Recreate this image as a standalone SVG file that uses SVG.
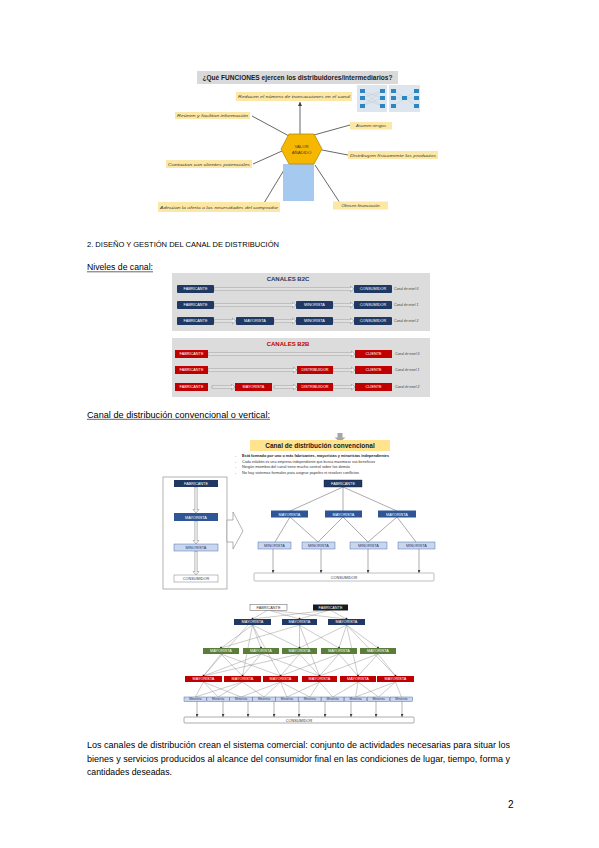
<svg xmlns="http://www.w3.org/2000/svg" width="599" height="848" viewBox="0 0 599 848">
<defs>
<style>
text{font-family:"Liberation Sans",Arial,sans-serif}
.bx{font-size:3.8px;fill:#fff;text-anchor:middle}
.bxd{font-size:3.8px;fill:#1f3864;text-anchor:middle}
.lab{font-size:4.2px;font-style:italic;fill:#3a3a3a;text-anchor:middle}
.yl{fill:#fde7a5}
.ln{stroke:#595959;stroke-width:0.5;fill:none}
.hl{stroke:#404040;stroke-width:0.8;fill:none}
.ha{fill:#f2f2f2;stroke:#7f7f7f;stroke-width:0.5}
.nv{fill:#1f3864}
.bl{fill:#2f5597}
.lb{fill:#c9d6ee;stroke:#2f5597;stroke-width:0.4}
.wh{fill:#fff;stroke:#7f7f7f;stroke-width:0.5}
.rd{fill:#c00000}
.gr{fill:#5a7d3a}
.dot{fill:#262626}
.niv{font-size:3.4px;font-style:italic;fill:#404040}
.sq{fill:#2e86c1}
</style>
<marker id="ah" markerWidth="4" markerHeight="4" refX="4" refY="2" orient="auto" markerUnits="userSpaceOnUse"><path d="M0,0 L4,2 L0,4 Z" fill="#404040"/></marker>
<marker id="as" markerWidth="3" markerHeight="3" refX="3" refY="1.5" orient="auto" markerUnits="userSpaceOnUse"><path d="M0,0 L3,1.5 L0,3 Z" fill="#404040"/></marker>
</defs>
<rect width="599" height="848" fill="#fff"/>

<!-- ===== Top figure ===== -->
<g id="funciones-title">
<rect x="197" y="71" width="201" height="13" fill="#d9d9d9"/>
<text x="297.5" y="80" font-size="6.5" font-weight="bold" fill="#1a1a1a" text-anchor="middle" textLength="190" lengthAdjust="spacingAndGlyphs">¿Qué FUNCIONES ejercen los distribuidores/intermediarios?</text>
</g>
<g id="funciones-lines">
<line class="hl" x1="300" y1="134" x2="300" y2="102" marker-end="url(#ah)"/>
<line class="hl" x1="289" y1="136" x2="252" y2="116"/>
<line class="hl" x1="314" y1="135" x2="350" y2="125"/>
<line class="hl" x1="322" y1="150" x2="348" y2="155"/>
<line class="hl" x1="282" y1="151" x2="253" y2="164"/>
<line class="hl" x1="287" y1="165" x2="264" y2="203"/>
<line class="hl" x1="315" y1="165" x2="340" y2="203"/>
</g>
<g id="blue-rect"><rect x="283" y="164" width="31" height="37" fill="#a6c9ef"/></g>
<g id="valor">
<polygon points="281,149 289,134 314,134 322,149 314,164 289,164" fill="#f5b700" stroke="#b88a00" stroke-width="0.8"/>
<text x="301.5" y="148" font-size="4.3" fill="#3a3a3a" text-anchor="middle">VALOR</text>
<text x="301.5" y="153.5" font-size="4.3" fill="#3a3a3a" text-anchor="middle">AÑADIDO</text>
</g>
<g id="f-reducen"><rect class="yl" x="236" y="92" width="116" height="9"/><text class="lab" x="294" y="98" textLength="112" lengthAdjust="spacingAndGlyphs">Reducen el número de transacciones en el canal</text></g>
<g id="f-reunen"><rect class="yl" x="175" y="112" width="75" height="7"/><text class="lab" x="212.5" y="117" textLength="71" lengthAdjust="spacingAndGlyphs">Reúnen y facilitan información</text></g>
<g id="f-asumen"><rect class="yl" x="350" y="122" width="42" height="7.5"/><text class="lab" x="371" y="127.2">Asumen riesgos</text></g>
<g id="f-distribuyen"><rect class="yl" x="348" y="151" width="90" height="8"/><text class="lab" x="393" y="156.5" textLength="86" lengthAdjust="spacingAndGlyphs">Distribuyen físicamente los productos</text></g>
<g id="f-contactan"><rect class="yl" x="166" y="160" width="86" height="8"/><text class="lab" x="209" y="165.5" textLength="82" lengthAdjust="spacingAndGlyphs">Contactan con clientes potenciales</text></g>
<g id="f-adecuan"><rect class="yl" x="158" y="202" width="122" height="10"/><text class="lab" x="219" y="208.5" textLength="118" lengthAdjust="spacingAndGlyphs">Adecúan la oferta a las necesidades del comprador</text></g>
<g id="f-ofrecen"><rect class="yl" x="333" y="201.5" width="55" height="8"/><text class="lab" x="360.5" y="207">Ofrecen financiación</text></g>
<g id="transacciones-img">
<rect x="357" y="85" width="30" height="27" fill="#dde6ee"/>
<rect x="389" y="85" width="31" height="27" fill="#dde6ee"/>
<g stroke="#b8c2cc" stroke-width="0.4">
<line x1="362" y1="91" x2="382" y2="98"/><line x1="362" y1="91" x2="382" y2="106"/><line x1="362" y1="98" x2="382" y2="91"/><line x1="362" y1="98" x2="382" y2="106"/><line x1="362" y1="106" x2="382" y2="91"/><line x1="362" y1="106" x2="382" y2="98"/>
<line x1="394" y1="91" x2="405" y2="98"/><line x1="394" y1="98" x2="405" y2="98"/><line x1="394" y1="106" x2="405" y2="98"/><line x1="405" y1="98" x2="416" y2="91"/><line x1="405" y1="98" x2="416" y2="98"/><line x1="405" y1="98" x2="416" y2="106"/>
</g>
<rect class="sq" x="360" y="89" width="5" height="4"/><rect class="sq" x="360" y="96" width="5" height="4"/><rect class="sq" x="360" y="104" width="5" height="4"/>
<rect class="sq" x="380" y="89" width="5" height="4"/><rect class="sq" x="380" y="96" width="5" height="4"/><rect class="sq" x="380" y="104" width="5" height="4"/>
<rect class="sq" x="391" y="89" width="5" height="4"/><rect class="sq" x="391" y="96" width="5" height="4"/><rect class="sq" x="391" y="104" width="5" height="4"/>
<rect class="sq" x="402" y="96" width="5" height="4"/>
<rect class="sq" x="414" y="89" width="5" height="4"/><rect class="sq" x="414" y="96" width="5" height="4"/><rect class="sq" x="414" y="104" width="5" height="4"/>
</g>

<!-- ===== Headings ===== -->
<g id="heading">
<text x="87" y="246.5" font-size="8" fill="#000" textLength="192" lengthAdjust="spacingAndGlyphs">2. DISEÑO Y GESTIÓN DEL CANAL DE DISTRIBUCIÓN</text>
</g>
<g id="niveles-title">
<text x="87" y="270" font-size="8.5" fill="#000" textLength="66" lengthAdjust="spacingAndGlyphs">Niveles de canal:</text>
<line x1="87" y1="271.8" x2="153" y2="271.8" stroke="#000" stroke-width="0.6"/>
</g>

<!-- ===== B2C ===== -->
<g id="b2c-panel">
<rect x="172" y="273" width="258" height="58" fill="#dcdcdc"/>
<text x="288" y="281" font-size="6" font-weight="bold" fill="#1f3864" text-anchor="middle">CANALES B2C</text>
</g>
<g id="b2c-connectors">
<path class="ha" d="M214 287.8 H350.5 V286.2 L354 289 L350.5 291.8 V290.2 H214 Z"/>
<path class="ha" d="M214 303.8 H292.5 V302.2 L296 305 L292.5 307.8 V306.2 H214 Z"/>
<path class="ha" d="M333 303.8 H350.5 V302.2 L354 305 L350.5 307.8 V306.2 H333 Z"/>
<path class="ha" d="M214 319.8 H232.5 V318.2 L236 321 L232.5 323.8 V322.2 H214 Z"/>
<path class="ha" d="M274 319.8 H292.5 V318.2 L296 321 L292.5 323.8 V322.2 H274 Z"/>
<path class="ha" d="M333 319.8 H350.5 V318.2 L354 321 L350.5 323.8 V322.2 H333 Z"/>
</g>
<g id="b2c-r0">
<rect class="nv" x="177" y="285" width="37" height="8" rx="1"/><text class="bx" x="195.5" y="290.3">FABRICANTE</text>
<rect class="nv" x="354" y="285" width="38" height="8" rx="1"/><text class="bx" x="373" y="290.3">CONSUMIDOR</text>
<text class="niv" x="394" y="290.3">Canal de nivel 0</text>
</g>
<g id="b2c-r1">
<rect class="nv" x="177" y="301" width="37" height="8" rx="1"/><text class="bx" x="195.5" y="306.3">FABRICANTE</text>
<rect class="nv" x="296" y="301" width="37" height="8" rx="1"/><text class="bx" x="314.5" y="306.3">MINORISTA</text>
<rect class="nv" x="354" y="301" width="38" height="8" rx="1"/><text class="bx" x="373" y="306.3">CONSUMIDOR</text>
<text class="niv" x="394" y="306.3">Canal de nivel 1</text>
</g>
<g id="b2c-r2">
<rect class="nv" x="177" y="317" width="37" height="8" rx="1"/><text class="bx" x="195.5" y="322.3">FABRICANTE</text>
<rect class="nv" x="236" y="317" width="38" height="8" rx="1"/><text class="bx" x="255" y="322.3">MAYORISTA</text>
<rect class="nv" x="296" y="317" width="37" height="8" rx="1"/><text class="bx" x="314.5" y="322.3">MINORISTA</text>
<rect class="nv" x="354" y="317" width="38" height="8" rx="1"/><text class="bx" x="373" y="322.3">CONSUMIDOR</text>
<text class="niv" x="394" y="322.3">Canal de nivel 2</text>
</g>

<!-- ===== B2B ===== -->
<g id="b2b-panel">
<rect x="172" y="338" width="258" height="59" fill="#dcdcdc"/>
<text x="288" y="346" font-size="6" font-weight="bold" fill="#c00000" text-anchor="middle">CANALES B2B</text>
</g>
<g id="b2b-connectors">
<path class="ha" d="M208 352.8 H351.5 V351.2 L355 354 L351.5 356.8 V355.2 H208 Z"/>
<path class="ha" d="M208 368.8 H293.5 V367.2 L297 370 L293.5 372.8 V371.2 H208 Z"/>
<path class="ha" d="M333 368.8 H351.5 V367.2 L355 370 L351.5 372.8 V371.2 H333 Z"/>
<path class="ha" d="M212 385.8 H231.5 V384.2 L235 387 L231.5 389.8 V388.2 H212 Z"/>
<path class="ha" d="M274 385.8 H293.5 V384.2 L297 387 L293.5 389.8 V388.2 H274 Z"/>
<path class="ha" d="M333 385.8 H351.5 V384.2 L355 387 L351.5 389.8 V388.2 H333 Z"/>
</g>
<g id="b2b-r0">
<rect class="rd" x="175" y="350" width="33" height="8"/><text class="bx" x="191.5" y="355.3">FABRICANTE</text>
<rect class="rd" x="355" y="350" width="37" height="8"/><text class="bx" x="373.5" y="355.3">CLIENTE</text>
<text class="niv" x="395" y="355.3">Canal de nivel 0</text>
</g>
<g id="b2b-r1">
<rect class="rd" x="175" y="366" width="33" height="8"/><text class="bx" x="191.5" y="371.3">FABRICANTE</text>
<rect class="rd" x="297" y="366" width="36" height="8"/><text class="bx" x="315" y="371.3">DISTRIBUIDOR</text>
<rect class="rd" x="355" y="366" width="37" height="8"/><text class="bx" x="373.5" y="371.3">CLIENTE</text>
<text class="niv" x="395" y="371.3">Canal de nivel 1</text>
</g>
<g id="b2b-r2">
<rect class="rd" x="175" y="383" width="33" height="8"/><text class="bx" x="191.5" y="388.3">FABRICANTE</text>
<rect class="rd" x="235" y="383" width="37" height="8"/><text class="bx" x="253.5" y="388.3">MAYORISTA</text>
<rect class="rd" x="297" y="383" width="36" height="8"/><text class="bx" x="315" y="388.3">DISTRIBUIDOR</text>
<rect class="rd" x="355" y="383" width="37" height="8"/><text class="bx" x="373.5" y="388.3">CLIENTE</text>
<text class="niv" x="395" y="388.3">Canal de nivel 2</text>
</g>

<!-- ===== Convencional ===== -->
<g id="conv-title">
<text x="87" y="417.5" font-size="8.5" fill="#000" textLength="183" lengthAdjust="spacingAndGlyphs">Canal de distribución convencional o vertical:</text>
<line x1="87" y1="419.3" x2="270" y2="419.3" stroke="#000" stroke-width="0.6"/>
</g>
<g id="conv-left">
<rect x="163" y="477" width="64" height="112" fill="#fff" stroke="#808080" stroke-width="0.6"/>
<path class="ha" d="M194.8 487 V509.5 H193 L196 513 L199 509.5 H197.2 V487 Z"/>
<path class="ha" d="M194.8 521 V540.5 H193 L196 544 L199 540.5 H197.2 V521 Z"/>
<path class="ha" d="M194.8 551 V571.5 H193 L196 575 L199 571.5 H197.2 V551 Z"/>
<rect class="nv" x="174" y="480" width="44" height="7"/><text class="bx" x="196" y="485">FABRICANTE</text>
<rect class="bl" x="174" y="513" width="44" height="8"/><text class="bx" x="196" y="518.5">MAYORISTA</text>
<rect class="lb" x="174" y="544" width="44" height="7"/><text class="bxd" x="196" y="549">MINORISTA</text>
<rect class="wh" x="174" y="575" width="44" height="7"/><text class="bxd" x="196" y="580" fill="#333">CONSUMIDOR</text>
</g>
<g id="conv-bigarrow">
<path d="M227 520 H233 V512 L243 531 L233 549 V542 H227 Z" fill="#fff" stroke="#7f7f7f" stroke-width="0.6"/>
</g>
<g id="conv-header">
<path d="M337.5 433 H342.5 V437.5 H345.5 L340 442 L334.5 437.5 H337.5 Z" fill="#a6a6a6"/>
<rect x="250" y="440" width="140" height="11" fill="#ffe38f"/>
<text x="320" y="448" font-size="6.5" font-weight="bold" fill="#1a1a1a" text-anchor="middle">Canal de distribución convencional</text>
<g font-size="3.6" fill="#333">
<text x="235" y="457">-</text><text x="242" y="457" font-weight="bold" fill="#1a1a1a" textLength="147" lengthAdjust="spacingAndGlyphs">Está formado por uno o más fabricantes, mayoristas y minoristas independientes</text>
<text x="235" y="462.5">-</text><text x="242" y="462.5" textLength="133" lengthAdjust="spacingAndGlyphs">Cada eslabón es una empresa independiente que busca maximizar sus beneficios</text>
<text x="235" y="468">-</text><text x="242" y="468" textLength="108" lengthAdjust="spacingAndGlyphs">Ningún miembro del canal tiene mucho control sobre los demás</text>
<text x="235" y="473.5">-</text><text x="242" y="473.5" textLength="117" lengthAdjust="spacingAndGlyphs">No hay sistemas formales para asignar papeles ni resolver conflictos</text>
</g>
</g>
<g id="conv-connectors">
<line class="ln" x1="343" y1="487" x2="290" y2="511"/>
<line class="ln" x1="343" y1="487" x2="343" y2="511"/>
<line class="ln" x1="343" y1="487" x2="397" y2="511"/>
<line class="ln" x1="290" y1="517" x2="275" y2="542"/>
<line class="ln" x1="290" y1="517" x2="318" y2="542"/>
<line class="ln" x1="343" y1="517" x2="318" y2="542"/>
<line class="ln" x1="343" y1="517" x2="368" y2="542"/>
<line class="ln" x1="397" y1="517" x2="368" y2="542"/>
<line class="ln" x1="397" y1="517" x2="416" y2="542"/>
<line class="ln" x1="273" y1="549" x2="273" y2="573" marker-end="url(#as)"/>
<line class="ln" x1="321" y1="549" x2="321" y2="573" marker-end="url(#as)"/>
<line class="ln" x1="368" y1="549" x2="368" y2="573" marker-end="url(#as)"/>
<line class="ln" x1="419" y1="549" x2="419" y2="573" marker-end="url(#as)"/>
</g>
<g id="conv-fab"><rect class="nv" x="324" y="480" width="38" height="7" stroke="#0d1b33" stroke-width="0.4"/><text class="bx" x="343" y="485">FABRICANTE</text></g>
<g id="conv-may1"><rect class="bl" x="271" y="510.5" width="37" height="7"/><text class="bx" x="289.5" y="515.5">MAYORISTA</text></g>
<g id="conv-may2"><rect class="bl" x="325" y="510.5" width="37" height="7"/><text class="bx" x="343.5" y="515.5">MAYORISTA</text></g>
<g id="conv-may3"><rect class="bl" x="378" y="510.5" width="38" height="7"/><text class="bx" x="397" y="515.5">MAYORISTA</text></g>
<g id="conv-min1"><rect class="lb" x="258" y="542" width="33" height="7"/><text class="bxd" x="274.5" y="547">MINORISTA</text></g>
<g id="conv-min2"><rect class="lb" x="302" y="542" width="33" height="7"/><text class="bxd" x="318.5" y="547">MINORISTA</text></g>
<g id="conv-min3"><rect class="lb" x="350" y="542" width="37" height="7"/><text class="bxd" x="368.5" y="547">MINORISTA</text></g>
<g id="conv-min4"><rect class="lb" x="398" y="542" width="37" height="7"/><text class="bxd" x="416.5" y="547">MINORISTA</text></g>
<g id="conv-cons"><rect class="wh" x="254" y="573" width="180" height="8" rx="1"/><text class="bxd" x="344" y="578.5" fill="#333">CONSUMIDOR</text></g>

<!-- ===== Network ===== -->
<g id="net-connectors" stroke="#8c8c8c" stroke-width="0.45" fill="none">
<line x1="268" y1="610" x2="252.5" y2="619"/><line x1="268" y1="610" x2="299.5" y2="619"/><line x1="268" y1="610" x2="346.5" y2="619"/>
<line x1="330" y1="610" x2="252.5" y2="619"/><line x1="330" y1="610" x2="299.5" y2="619"/><line x1="330" y1="610" x2="346.5" y2="619"/>
<line x1="252.5" y1="625" x2="221" y2="648"/><line x1="252.5" y1="625" x2="261" y2="648"/><line x1="252.5" y1="625" x2="299.5" y2="648"/><line x1="252.5" y1="625" x2="242.5" y2="676"/><line x1="252.5" y1="625" x2="280.5" y2="676"/><line x1="248" y1="625" x2="203.5" y2="676"/>
<line x1="299.5" y1="625" x2="221" y2="648"/><line x1="299.5" y1="625" x2="299.5" y2="648"/><line x1="299.5" y1="625" x2="339" y2="648"/><line x1="299.5" y1="625" x2="319.5" y2="676"/>
<line x1="346.5" y1="625" x2="299.5" y2="648"/><line x1="346.5" y1="625" x2="339" y2="648"/><line x1="346.5" y1="625" x2="378" y2="648"/><line x1="346.5" y1="625" x2="358" y2="676"/><line x1="346.5" y1="625" x2="395.5" y2="676"/>
<line x1="221" y1="654" x2="203.5" y2="676"/><line x1="221" y1="654" x2="242.5" y2="676"/><line x1="221" y1="654" x2="280.5" y2="676"/>
<line x1="261" y1="654" x2="203.5" y2="676"/><line x1="261" y1="654" x2="242.5" y2="676"/><line x1="261" y1="654" x2="319.5" y2="676"/>
<line x1="299.5" y1="654" x2="203.5" y2="676"/><line x1="299.5" y1="654" x2="280.5" y2="676"/><line x1="299.5" y1="654" x2="319.5" y2="676"/>
<line x1="339" y1="654" x2="280.5" y2="676"/><line x1="339" y1="654" x2="319.5" y2="676"/><line x1="339" y1="654" x2="358" y2="676"/>
<line x1="378" y1="654" x2="319.5" y2="676"/><line x1="378" y1="654" x2="358" y2="676"/><line x1="378" y1="654" x2="395.5" y2="676"/>
<line x1="203.5" y1="682" x2="195.3" y2="697"/><line x1="203.5" y1="682" x2="218.2" y2="697"/><line x1="203.5" y1="682" x2="241.1" y2="697"/>
<line x1="242.5" y1="682" x2="195.3" y2="697"/><line x1="242.5" y1="682" x2="218.2" y2="697"/><line x1="242.5" y1="682" x2="264" y2="697"/>
<line x1="280.5" y1="682" x2="241.1" y2="697"/><line x1="280.5" y1="682" x2="264" y2="697"/><line x1="280.5" y1="682" x2="286.9" y2="697"/><line x1="280.5" y1="682" x2="309.8" y2="697"/>
<line x1="319.5" y1="682" x2="286.9" y2="697"/><line x1="319.5" y1="682" x2="309.8" y2="697"/><line x1="319.5" y1="682" x2="332.7" y2="697"/>
<line x1="358" y1="682" x2="332.7" y2="697"/><line x1="358" y1="682" x2="355.6" y2="697"/><line x1="358" y1="682" x2="378.5" y2="697"/>
<line x1="395.5" y1="682" x2="355.6" y2="697"/><line x1="395.5" y1="682" x2="378.5" y2="697"/><line x1="395.5" y1="682" x2="401.4" y2="697"/>
</g>
<g id="net-arrows" stroke="#595959" stroke-width="0.45">
<line x1="197" y1="701" x2="197" y2="717" marker-end="url(#as)"/><line x1="223" y1="701" x2="223" y2="717" marker-end="url(#as)"/><line x1="248" y1="701" x2="248" y2="717" marker-end="url(#as)"/>
<line x1="274" y1="701" x2="274" y2="717" marker-end="url(#as)"/><line x1="299" y1="701" x2="299" y2="717" marker-end="url(#as)"/><line x1="325" y1="701" x2="325" y2="717" marker-end="url(#as)"/>
<line x1="351" y1="701" x2="351" y2="717" marker-end="url(#as)"/><line x1="376" y1="701" x2="376" y2="717" marker-end="url(#as)"/><line x1="402" y1="701" x2="402" y2="717" marker-end="url(#as)"/>
</g>
<g id="net-fab1"><rect x="250" y="604.5" width="37" height="6" fill="#fff" stroke="#595959" stroke-width="0.5"/><text x="268.5" y="609" font-size="3.8" fill="#333" text-anchor="middle">FABRICANTE</text></g>
<g id="net-fab2"><rect x="313" y="604.5" width="35" height="6" fill="#1a1a1a"/><text class="bx" x="330.5" y="609">FABRICANTE</text></g>
<g id="net-n1"><rect class="nv" x="234" y="619" width="37" height="6"/><text class="bx" x="252.5" y="623.4">MAYORISTA</text></g>
<g id="net-n2"><rect class="nv" x="282" y="619" width="35" height="6"/><text class="bx" x="299.5" y="623.4">MAYORISTA</text></g>
<g id="net-n3"><rect class="nv" x="328" y="619" width="37" height="6"/><text class="bx" x="346.5" y="623.4">MAYORISTA</text></g>
<g id="net-g1"><rect class="gr" x="203" y="648" width="36" height="6"/><text class="bx" x="221" y="652.4">MAYORISTA</text></g>
<g id="net-g2"><rect class="gr" x="243" y="648" width="36" height="6"/><text class="bx" x="261" y="652.4">MAYORISTA</text></g>
<g id="net-g3"><rect class="gr" x="282" y="648" width="35" height="6"/><text class="bx" x="299.5" y="652.4">MAYORISTA</text></g>
<g id="net-g4"><rect class="gr" x="321" y="648" width="36" height="6"/><text class="bx" x="339" y="652.4">MAYORISTA</text></g>
<g id="net-g5"><rect class="gr" x="360" y="648" width="36" height="6"/><text class="bx" x="378" y="652.4">MAYORISTA</text></g>
<g id="net-r1"><rect class="rd" x="185" y="676" width="37" height="6"/><text class="bx" x="203.5" y="680.4">MAYORISTA</text></g>
<g id="net-r2"><rect class="rd" x="224" y="676" width="37" height="6"/><text class="bx" x="242.5" y="680.4">MAYORISTA</text></g>
<g id="net-r3"><rect class="rd" x="263" y="676" width="35" height="6"/><text class="bx" x="280.5" y="680.4">MAYORISTA</text></g>
<g id="net-r4"><rect class="rd" x="302" y="676" width="35" height="6"/><text class="bx" x="319.5" y="680.4">MAYORISTA</text></g>
<g id="net-r5"><rect class="rd" x="340" y="676" width="36" height="6"/><text class="bx" x="358" y="680.4">MAYORISTA</text></g>
<g id="net-r6"><rect class="rd" x="377" y="676" width="37" height="6"/><text class="bx" x="395.5" y="680.4">MAYORISTA</text></g>
<g id="net-minoristas" font-size="3" fill="#1f3864" text-anchor="middle">
<rect class="lb" x="184" y="697" width="22.5" height="4.5"/><text x="195.3" y="700.3">Minorista</text>
<rect class="lb" x="206.9" y="697" width="22.5" height="4.5"/><text x="218.2" y="700.3">Minorista</text>
<rect class="lb" x="229.8" y="697" width="22.5" height="4.5"/><text x="241.1" y="700.3">Minorista</text>
<rect class="lb" x="252.7" y="697" width="22.5" height="4.5"/><text x="264" y="700.3">Minorista</text>
<rect class="lb" x="275.6" y="697" width="22.5" height="4.5"/><text x="286.9" y="700.3">Minorista</text>
<rect class="lb" x="298.5" y="697" width="22.5" height="4.5"/><text x="309.8" y="700.3">Minorista</text>
<rect class="lb" x="321.4" y="697" width="22.5" height="4.5"/><text x="332.7" y="700.3">Minorista</text>
<rect class="lb" x="344.3" y="697" width="22.5" height="4.5"/><text x="355.6" y="700.3">Minorista</text>
<rect class="lb" x="367.2" y="697" width="22.5" height="4.5"/><text x="378.5" y="700.3">Minorista</text>
<rect class="lb" x="390.1" y="697" width="22.5" height="4.5"/><text x="401.4" y="700.3">Minorista</text>
</g>
<g id="net-dots">
<rect class="dot" x="251.7" y="617.8" width="1.6" height="1.2"/><rect class="dot" x="298.7" y="617.8" width="1.6" height="1.2"/><rect class="dot" x="345.7" y="617.8" width="1.6" height="1.2"/>
<rect class="dot" x="220.2" y="646.8" width="1.6" height="1.2"/><rect class="dot" x="260.2" y="646.8" width="1.6" height="1.2"/><rect class="dot" x="298.7" y="646.8" width="1.6" height="1.2"/><rect class="dot" x="338.2" y="646.8" width="1.6" height="1.2"/><rect class="dot" x="377.2" y="646.8" width="1.6" height="1.2"/>
<rect class="dot" x="202.7" y="674.8" width="1.6" height="1.2"/><rect class="dot" x="241.7" y="674.8" width="1.6" height="1.2"/><rect class="dot" x="279.7" y="674.8" width="1.6" height="1.2"/><rect class="dot" x="318.7" y="674.8" width="1.6" height="1.2"/><rect class="dot" x="357.2" y="674.8" width="1.6" height="1.2"/><rect class="dot" x="394.7" y="674.8" width="1.6" height="1.2"/>
</g>
<g id="net-cons"><rect x="184" y="717" width="230" height="6" fill="#fff" stroke="#595959" stroke-width="0.5" rx="1"/><text x="299" y="721.5" font-size="3.8" fill="#333" text-anchor="middle">CONSUMIDOR</text></g>

<!-- ===== Paragraph ===== -->
<g id="paragraph" font-size="8.8" fill="#000">
<text x="87" y="748" textLength="423" lengthAdjust="spacingAndGlyphs">Los canales de distribución crean el sistema comercial: conjunto de actividades necesarias para situar los</text>
<text x="87" y="761.5" textLength="423" lengthAdjust="spacingAndGlyphs">bienes y servicios producidos al alcance del consumidor final en las condiciones de lugar, tiempo, forma y</text>
<text x="87" y="775" textLength="85" lengthAdjust="spacingAndGlyphs">cantidades deseadas.</text>
</g>
<g id="page-number"><text x="508" y="808" font-size="10" fill="#000">2</text></g>
</svg>
